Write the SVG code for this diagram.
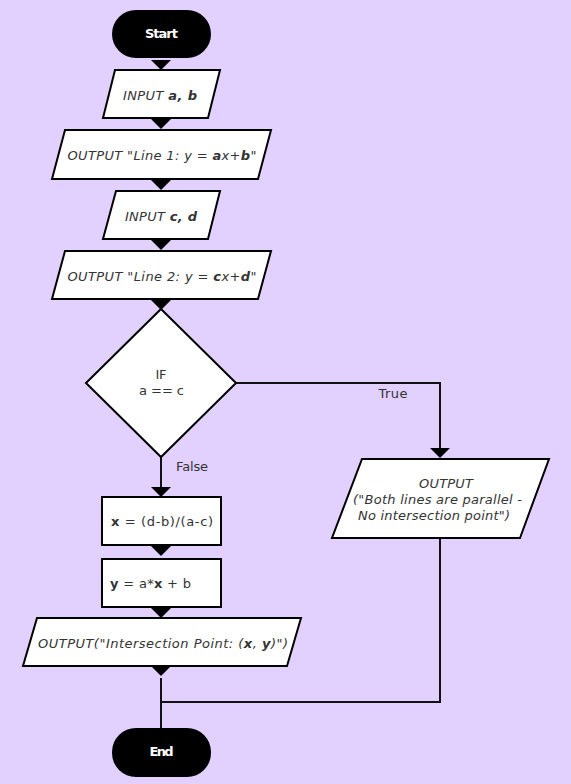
<svg xmlns="http://www.w3.org/2000/svg" width="571" height="784" viewBox="0 0 571 784">
<style>
text{font-family:"DejaVu Sans",Verdana,sans-serif;font-size:13px;fill:#333;text-anchor:middle;dominant-baseline:central}
.term{fill:#000}
.tt{fill:#fff;font-weight:bold}
.shape{fill:#fff;stroke:#000;stroke-width:2}
.io{font-style:italic}
.b{font-weight:bold}
.line{fill:none;stroke:#111;stroke-width:2}
.lbl{fill:#333}
</style>
<defs>
<path id="ah" d="M-10,0 L10,0 L0,10 Z" fill="#000"/>
</defs>
<rect width="571" height="784" fill="#E2D0FE"/>
<g id="connectors">
<use href="#ah" x="161" y="60"/>
<use href="#ah" x="161" y="119"/>
<use href="#ah" x="161" y="180"/>
<use href="#ah" x="161" y="240"/>
<use href="#ah" x="161" y="300"/>
<path class="line" d="M236,383 H440 V448"/>
<use href="#ah" x="440" y="448"/>
<text class="lbl" x="393" y="393" textLength="29">True</text>
<path class="line" d="M161,457 V487"/>
<use href="#ah" x="161" y="487"/>
<text class="lbl" x="192" y="466" textLength="32">False</text>
<use href="#ah" x="161" y="546"/>
<use href="#ah" x="161" y="608"/>
<use href="#ah" x="161" y="666"/>
<path class="line" d="M161,678 V728 M161,702 H440 V538"/>
</g>
<g id="start"><rect class="term" x="112" y="10" width="99" height="48" rx="24"/><text class="tt" x="161.5" y="33" textLength="33">Start</text></g>
<g id="input_ab"><path class="shape" d="M115,70 H220 L208,118 H103 Z"/><text class="io" x="160" y="95" textLength="74">INPUT <tspan class="b">a, b</tspan></text></g>
<g id="output_line1"><path class="shape" d="M65,130 H271 L258,179 H52 Z"/><text class="io" x="162" y="155" textLength="189">OUTPUT "Line 1: y = <tspan class="b">a</tspan>x+<tspan class="b">b</tspan>"</text></g>
<g id="input_cd"><path class="shape" d="M116,191 H220 L208,239 H103 Z"/><text class="io" x="161" y="216" textLength="72">INPUT <tspan class="b">c, d</tspan></text></g>
<g id="output_line2"><path class="shape" d="M65,251 H271 L258,299 H52 Z"/><text class="io" x="162" y="276" textLength="189">OUTPUT "Line 2: y = <tspan class="b">c</tspan>x+<tspan class="b">d</tspan>"</text></g>
<g id="if"><path class="shape" d="M161,309 L236,383 L161,457 L86,383 Z"/><text x="161" y="374" textLength="11">IF</text><text x="161.5" y="390" textLength="45">a == c</text></g>
<g id="output_parallel"><path class="shape" d="M362,459 H549 L520,538 H332 Z"/><text class="io" x="446" y="483" textLength="54">OUTPUT</text><text class="io" x="437.5" y="499" textLength="169">("Both lines are parallel -</text><text class="io" x="434" y="515" textLength="152">No intersection point")</text></g>
<g id="calc_x"><rect class="shape" x="102" y="497" width="119" height="48"/><text x="162" y="521" textLength="102"><tspan class="b">x</tspan> = (d-b)/(a-c)</text></g>
<g id="calc_y"><rect class="shape" x="102" y="559" width="119" height="48"/><text x="150.5" y="583" textLength="81"><tspan class="b">y</tspan> = a*<tspan class="b">x</tspan> + b</text></g>
<g id="output_point"><path class="shape" d="M37,618 H301 L287,666 H23 Z"/><text class="io" x="163" y="643" textLength="250">OUTPUT("Intersection Point: (<tspan class="b">x</tspan>, <tspan class="b">y</tspan>)")</text></g>
<g id="end"><rect class="term" x="112" y="728" width="99" height="49" rx="24"/><text class="tt" x="161.5" y="751" textLength="24">End</text></g>
</svg>
